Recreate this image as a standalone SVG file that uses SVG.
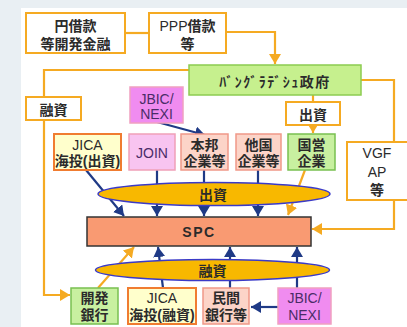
<svg xmlns="http://www.w3.org/2000/svg" width="407" height="327" viewBox="0 0 407 327">
<style>
text{font-family:"Liberation Sans","Noto Sans CJK JP",sans-serif;fill:#2b2b2b;text-anchor:middle;font-size:14px}
.j{font-weight:bold}
.p{fill:#4a2c68}
.o{fill:#fff;stroke:#f5aa22;stroke-width:2}
.or{fill:none;stroke:#f5aa22;stroke-width:2.2}
.bl{fill:none;stroke:#1f3a86;stroke-width:2.2}
</style>
<defs>
<marker id="ab" markerUnits="userSpaceOnUse" markerWidth="12" markerHeight="12" refX="10" refY="6" orient="auto"><path d="M0,0 L10,6 L0,12 Z" fill="#1f3a86"/></marker>
<marker id="ao" markerUnits="userSpaceOnUse" markerWidth="12" markerHeight="12" refX="10" refY="6" orient="auto"><path d="M0,0 L10,6 L0,12 Z" fill="#f5aa22"/></marker>
</defs>
<rect width="407" height="327" fill="#e9eff3"/>
<rect x="21" y="8" width="386" height="319" fill="#fff"/>
<g id="connectors">
<path class="or" d="M125,33 H149"/>
<path class="or" d="M226,32 H275 V64" marker-end="url(#ao)"/>
<path class="or" d="M189,70 H44 V97"/>
<path class="or" d="M44,120 V295 H70" marker-end="url(#ao)"/>
<path class="or" d="M361,80 H394 V229 H312" marker-end="url(#ao)"/>
<path class="or" d="M313,95 V102"/>
<path class="or" d="M313,125 V133" marker-end="url(#ao)"/>
<path class="or" d="M305,170 L288,215" marker-end="url(#ao)"/>
<path class="or" d="M98,288 L134,247" marker-end="url(#ao)"/>
<path class="bl" d="M157,122 L205,135" marker-end="url(#ab)"/>
<path class="bl" d="M86,170 L124,216" marker-end="url(#ab)"/>
<path class="bl" d="M157,170 V216" marker-end="url(#ab)"/>
<path class="bl" d="M204,170 V216" marker-end="url(#ab)"/>
<path class="bl" d="M258,170 V216" marker-end="url(#ab)"/>
<path class="bl" d="M163,288 L158,247" marker-end="url(#ab)"/>
<path class="bl" d="M230,288 V247" marker-end="url(#ab)"/>
<path class="bl" d="M297,288 V247" marker-end="url(#ab)"/>
<path class="bl" d="M278,307 H251" marker-end="url(#ab)"/>
</g>
<g id="yen-loan"><rect class="o" x="26" y="13" width="99" height="40"/><text class="j" x="75.5" y="31" font-size="15">円借款</text><text class="j" x="75.5" y="49" font-size="15">等開発金融</text></g>
<g id="ppp-loan"><rect class="o" x="149" y="13" width="77" height="40"/><text x="187.5" y="31" font-size="15">PPP<tspan class="j">借款</tspan></text><text class="j" x="187.5" y="49" font-size="15">等</text></g>
<g id="gov"><rect x="189" y="65" width="172" height="30" fill="#c6f08e" stroke="#8ccc50" stroke-width="1.5"/><text class="j" x="275" y="87" font-size="15" letter-spacing="1.5">ﾊﾞﾝｸﾞﾗﾃﾞｼｭ政府</text></g>
<g id="loan-left"><rect class="o" x="26" y="97" width="55" height="23"/><text class="j" x="53.5" y="115">融資</text></g>
<g id="equity-box"><rect class="o" x="286" y="102" width="54" height="23"/><text class="j" x="313" y="120">出資</text></g>
<g id="jbic-top"><rect x="130" y="87" width="53" height="36" fill="#f08cf0" stroke="#f0a0c0" stroke-width="1.5"/><text class="p" x="156.5" y="104">JBIC/</text><text class="p" x="156.5" y="119">NEXI</text></g>
<g id="jica-equity"><rect x="54" y="134" width="67" height="36" fill="#ffffcc" stroke="#f07c30" stroke-width="2"/><text x="87.5" y="150">JICA</text><text class="j" x="87.5" y="166">海投(出資)</text></g>
<g id="join"><rect x="129" y="134" width="46" height="36" fill="#f8c4f0" stroke="#f0a0b8" stroke-width="1.5"/><text class="p" x="152" y="158">JOIN</text></g>
<g id="japan-co"><rect x="181" y="134" width="47" height="36" fill="#fcd4c8" stroke="#f09888" stroke-width="1.5"/><text class="j" x="204.5" y="150" font-size="13">本邦</text><text class="j" x="204.5" y="166" font-size="13">企業等</text></g>
<g id="foreign-co"><rect x="236" y="134" width="45" height="36" fill="#fcd4c8" stroke="#f09888" stroke-width="1.5"/><text class="j" x="258.5" y="150" font-size="13">他国</text><text class="j" x="258.5" y="166" font-size="13">企業等</text></g>
<g id="state-co"><rect x="288" y="134" width="47" height="36" fill="#c8f0a0" stroke="#78c050" stroke-width="1.5"/><text class="j" x="311.5" y="150">国営</text><text class="j" x="311.5" y="166">企業</text></g>
<g id="vgf"><rect class="o" x="347" y="142" width="62" height="58"/><text x="377" y="158" font-size="15">VGF</text><text x="377" y="177" font-size="15">AP</text><text class="j" x="377" y="195" font-size="15">等</text></g>
<g id="equity-ellipse"><ellipse cx="214" cy="194" rx="116" ry="11.5" fill="#f8b800" stroke="#3a3ac8" stroke-width="1.5"/><text class="j" x="213" y="200" font-size="16">出資</text></g>
<g id="spc"><rect x="87" y="217" width="224" height="29" fill="#f99a72" stroke="#333" stroke-width="1.5"/><text x="199" y="237" font-weight="bold" letter-spacing="1.5" fill="#222">SPC</text></g>
<g id="loan-ellipse"><ellipse cx="212.5" cy="270" rx="117" ry="10.5" fill="#f8b800" stroke="#3a3ac8" stroke-width="1.5"/><text class="j" x="212.5" y="276" font-size="16">融資</text></g>
<g id="dev-bank"><rect x="71" y="288" width="47" height="36" fill="#c8f0a0" stroke="#78c050" stroke-width="1.5"/><text class="j" x="94.5" y="303" font-size="15">開発</text><text class="j" x="94.5" y="320" font-size="15">銀行</text></g>
<g id="jica-loan"><rect x="128" y="288" width="68" height="36" fill="#ffffcc" stroke="#f07c30" stroke-width="2"/><text x="162" y="303">JICA</text><text class="j" x="162" y="320">海投(融資)</text></g>
<g id="private-bank"><rect x="203" y="288" width="46" height="36" fill="#fcd4c8" stroke="#f09888" stroke-width="1.5"/><text class="j" x="226" y="303" font-size="13">民間</text><text class="j" x="226" y="320" font-size="13">銀行等</text></g>
<g id="jbic-bottom"><rect x="278" y="288" width="53" height="36" fill="#f08cf0" stroke="#f0a0c0" stroke-width="1.5"/><text class="p" x="304.5" y="303">JBIC/</text><text class="p" x="304.5" y="320">NEXI</text></g>
</svg>
